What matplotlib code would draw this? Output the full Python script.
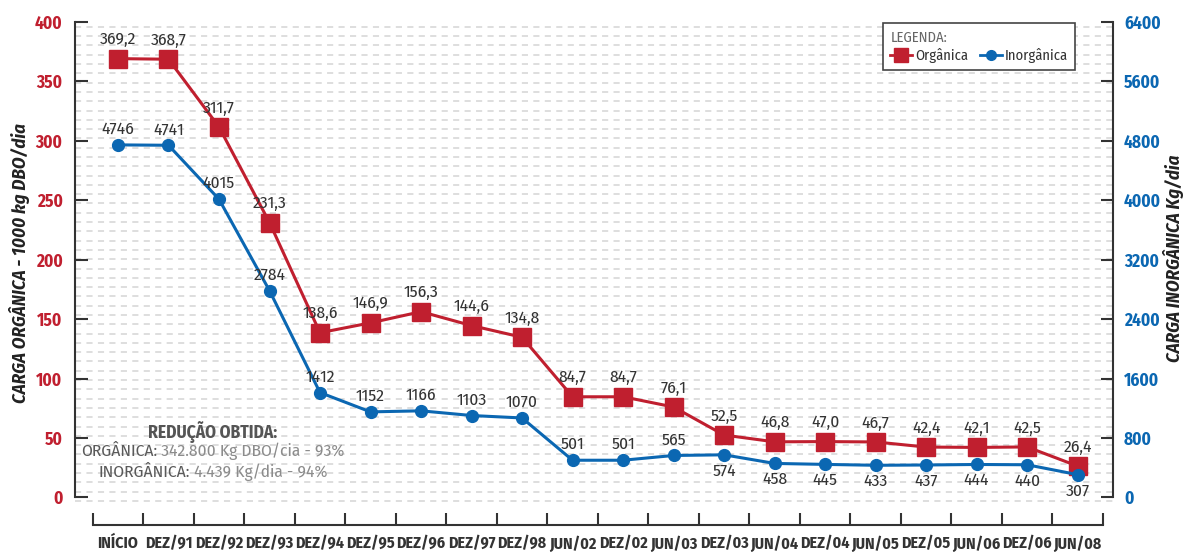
#!/usr/bin/env python3
"""
Evolução da carga orgânica (DBO) e inorgânica lançada, de INÍCIO até JUN/08.
Dois eixos: orgânica à esquerda (1000 kg DBO/dia), inorgânica à direita (Kg/dia).
"""
import numpy as np
import matplotlib.pyplot as plt
from matplotlib.lines import Line2D

plt.rcParams['font.family'] = ['Fira Sans Condensed', 'DejaVu Sans']
plt.rcParams['font.size'] = 10

# Dados
periodos = ['INÍCIO', 'DEZ/91', 'DEZ/92', 'DEZ/93', 'DEZ/94', 'DEZ/95', 'DEZ/96',
            'DEZ/97', 'DEZ/98', 'JUN/02', 'DEZ/02', 'JUN/03', 'DEZ/03', 'JUN/04',
            'DEZ/04', 'JUN/05', 'DEZ/05', 'JUN/06', 'DEZ/06', 'JUN/08']
organica = [369.2, 368.7, 311.7, 231.3, 138.6, 146.9, 156.3, 144.6, 134.8, 84.7,
            84.7, 76.1, 52.5, 46.8, 47.0, 46.7, 42.4, 42.1, 42.5, 26.4]
inorganica = [4746, 4741, 4015, 2784, 1412, 1152, 1166, 1103, 1070, 501,
              501, 565, 574, 458, 445, 433, 437, 444, 440, 307]

VERMELHO = '#c01f2f'
AZUL = '#0b67b2'
ESCURO = '#333333'
CINZA_GRADE = '#d4d4d4'
FS = 12.5

fig = plt.figure(figsize=(11.83, 5.52), dpi=100)
ax = fig.add_axes([0.0634, 0.0859, 0.8774, 0.8742])
ax2 = ax.twinx()

x = np.arange(len(periodos))

# Grade tracejada de fundo
for g in np.arange(-2.9, 402, 7.82):
    ax.axhline(g, color=CINZA_GRADE, linewidth=1.1, dashes=(4, 3.5), zorder=0)

ax.plot(x, organica, color=VERMELHO, linewidth=2.2, marker='s', markersize=12.5,
        zorder=3, clip_on=False)
ax2.plot(x, inorganica, color=AZUL, linewidth=2.2, marker='o', markersize=8.5,
         zorder=3, clip_on=False)

for i, v in enumerate(organica):
    ax.annotate(f'{v:.1f}'.replace('.', ','), (i, v), xytext=(0, 8),
                textcoords='offset points', ha='center', va='bottom',
                fontsize=FS, color=ESCURO)

# rótulos da inorgânica: abaixo do ponto onde a curva vermelha fica próxima
for i, v in enumerate(inorganica):
    if i >= 12:
        ax2.annotate(f'{v}', (i, v), xytext=(0, -6), textcoords='offset points',
                     ha='center', va='top', fontsize=FS, color=ESCURO)
    else:
        ax2.annotate(f'{v}', (i, v), xytext=(0, 5.5), textcoords='offset points',
                     ha='center', va='bottom', fontsize=FS, color=ESCURO)

# Eixo esquerdo (orgânica)
ax.set_xlim(-0.851, 19.70)
ax.set_ylim(-6, 400)
ax.set_yticks(np.arange(0, 401, 50))
ax.spines['left'].set_bounds(0, 400)
ax.spines['top'].set_visible(False)
ax.spines['right'].set_visible(False)
for s in ('left', 'bottom'):
    ax.spines[s].set_color(ESCURO)
    ax.spines[s].set_linewidth(1.5)
ax.tick_params(axis='y', direction='in', length=9, width=1.5, color=ESCURO,
               labelcolor=VERMELHO, labelsize=FS, pad=9)
for lbl in ax.get_yticklabels():
    lbl.set_fontweight('bold')

# Eixo x em forma de colchete, deslocado para baixo
ax.spines['bottom'].set_position(('outward', 14.7))
ax.spines['bottom'].set_bounds(-0.5, 19.5)
ax.set_xticks(np.arange(-0.5, 20, 1))
ax.set_xticklabels([])
ax.set_xticks(x, minor=True)
ax.set_xticklabels(periodos, minor=True, fontweight='bold', fontsize=11.5,
                   color=ESCURO)
ax.tick_params(axis='x', which='major', direction='in', length=9, width=1.5,
               color=ESCURO)
ax.tick_params(axis='x', which='minor', length=0, pad=7.5)

# Eixo direito (inorgânica)
ax2.set_ylim(-96, 6400)
ax2.set_yticks(np.arange(0, 6401, 800))
ax2.spines['right'].set_bounds(0, 6400)
for s in ('top', 'left', 'bottom'):
    ax2.spines[s].set_visible(False)
ax2.spines['right'].set_color(ESCURO)
ax2.spines['right'].set_linewidth(1.5)
ax2.tick_params(axis='y', direction='in', length=9, width=1.5, color=ESCURO,
                labelcolor=AZUL, labelsize=FS, pad=8)
for lbl in ax2.get_yticklabels():
    lbl.set_fontweight('bold')

# Títulos dos eixos
fig.text(20 / 1183, 1 - 263 / 552, 'CARGA ORGÂNICA - 1000 kg DBO/dia',
         rotation=90, ha='center', va='center', fontsize=13.5,
         fontweight='bold', fontstyle='italic', color='#222222')
fig.text(1173 / 1183, 1 - 258 / 552, 'CARGA INORGÂNICA Kg/dia',
         rotation=90, ha='center', va='center', fontsize=13.5,
         fontweight='bold', fontstyle='italic', color='#222222')

# Quadro de redução obtida
ax.text(1.88, 55, 'REDUÇÃO OBTIDA:', ha='center', va='center', fontsize=FS,
        fontweight='bold', color='#555555')
linhas = [('ORGÂNICA:', ' 342.800 Kg DBO/cia - 93%', 38.5),
          ('INORGÂNICA:', ' 4.439 Kg/dia - 94%', 21.5)]
fig.canvas.draw()
renderer = fig.canvas.get_renderer()
for rotulo, resto, yv in linhas:
    tmp = ax.text(1.88, yv, rotulo + resto, ha='center', va='center', fontsize=FS)
    bb = tmp.get_window_extent(renderer)
    tmp.remove()
    x0 = ax.transData.inverted().transform((bb.x0, 0))[0]
    t1 = ax.text(x0, yv, rotulo, ha='left', va='center', fontsize=FS,
                 color='#5a5a5a')
    ax.annotate(resto, xy=(1, 0.5), xycoords=t1, ha='left', va='center',
                fontsize=FS, color='#8c8c8c')

# Legenda
handles = [
    Line2D([], [], color=VERMELHO, linewidth=2, marker='s', markersize=10),
    Line2D([], [], color=AZUL, linewidth=2, marker='o', markersize=7),
]
leg = ax.legend(handles, ['Orgânica', 'Inorgânica'], ncol=2,
                title='LEGENDA:', alignment='left', loc='upper right',
                bbox_to_anchor=(1075 / 1183, 1 - 23 / 552),
                bbox_transform=fig.transFigure, fancybox=False,
                framealpha=1, edgecolor='#444444', fontsize=10.5,
                title_fontsize=10.5, handlelength=1.5, handletextpad=0.2,
                columnspacing=0.8, borderpad=0.5, labelspacing=0.25,
                borderaxespad=0)
leg.get_frame().set_linewidth(1.2)
leg.get_title().set_color('#666666')
for t in leg.get_texts():
    t.set_color(ESCURO)

fig.savefig('out.png', dpi=100)
